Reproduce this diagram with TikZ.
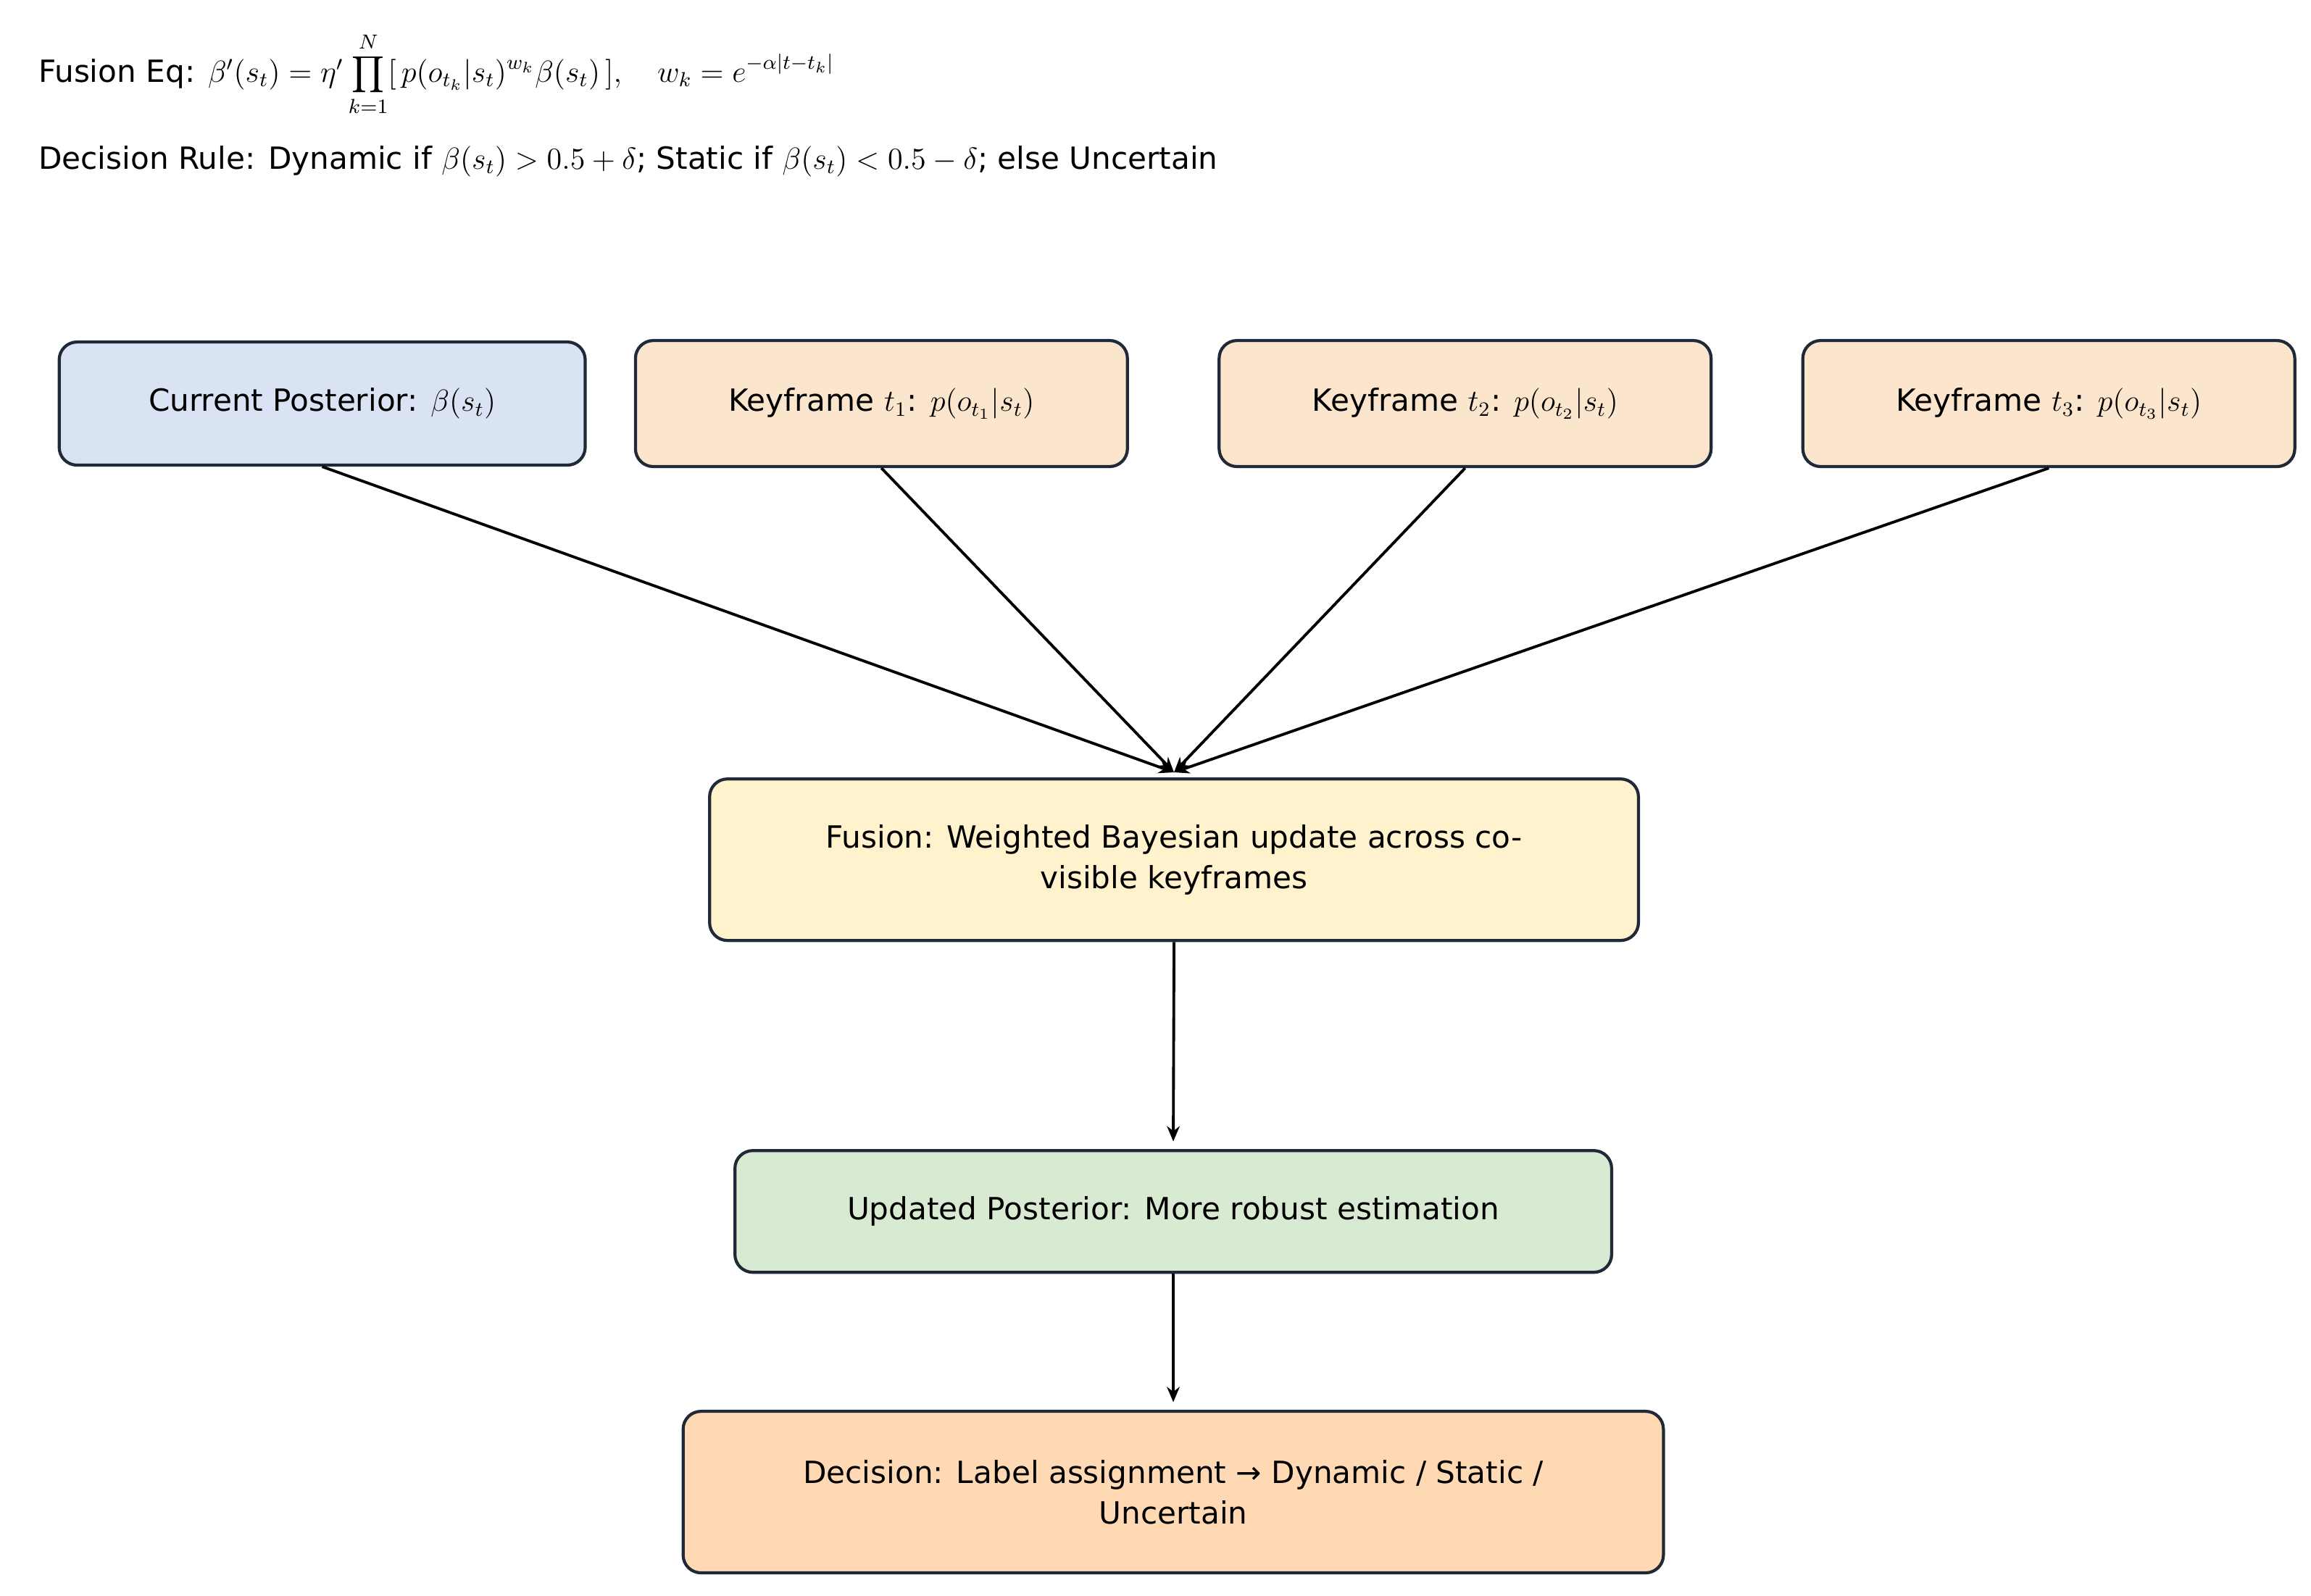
\documentclass[tikz,border=0pt]{standalone}
\usepackage{fontspec}
\setmainfont{DejaVu Sans}
\usetikzlibrary{arrows.meta}
\definecolor{cblue}{HTML}{DAE3F3}
\definecolor{corange}{HTML}{FCE5CD}
\definecolor{cyellow}{HTML}{FFF2CC}
\definecolor{cgreen}{HTML}{D9EAD3}
\definecolor{cpeach}{HTML}{FFD9B3}
\definecolor{cedge}{HTML}{1F2937}
\begin{document}
\begin{tikzpicture}[x=0.02044cm,y=-0.02044cm,
  box/.style={draw=cedge,line width=1.2pt,rounded corners=7pt,font=\fontsize{12}{16}\selectfont,align=center,inner sep=0pt},
  arr/.style={-{Stealth[length=6pt,width=5pt]},line width=1.1pt,black}]
\useasboundingbox (0,0) rectangle (1560,1077.3);
\node[anchor=west,font=\fontsize{12}{14}\selectfont] (eq) at (20,50) {Fusion Eq: $\beta'(s_t)=\eta'\displaystyle\prod_{k=1}^{N}[\,p(o_{t_k}|s_t)^{w_k}\beta(s_t)\,],\quad w_k=e^{-\alpha|t-t_k|}$};
\node[anchor=west,font=\fontsize{12}{14}\selectfont] (rule) at (20,109) {Decision Rule: Dynamic if $\beta(s_t)>0.5+\delta$; Static if $\beta(s_t)<0.5-\delta$; else Uncertain};
\node[box,fill=cblue,minimum width=7.26cm,minimum height=1.70cm] (cp) at (217.5,272.5) {Current Posterior: $\beta(s_t)$};
\node[box,fill=corange,minimum width=6.79cm,minimum height=1.74cm] (k1) at (595,272.5) {Keyframe $t_1$: $p(o_{t_1}|s_t)$};
\node[box,fill=corange,minimum width=6.79cm,minimum height=1.74cm] (k2) at (989,272.5) {Keyframe $t_2$: $p(o_{t_2}|s_t)$};
\node[box,fill=corange,minimum width=6.79cm,minimum height=1.74cm] (k3) at (1383,272.5) {Keyframe $t_3$: $p(o_{t_3}|s_t)$};
\node[box,fill=cyellow,minimum width=12.82cm,minimum height=2.23cm] (fu) at (792.5,580.5) {Fusion: Weighted Bayesian update across co-\\visible keyframes};
\node[box,fill=cgreen,minimum width=12.10cm,minimum height=1.68cm] (up) at (792,818) {Updated Posterior: More robust estimation};
\node[box,fill=cpeach,minimum width=13.53cm,minimum height=2.23cm] (de) at (792,1007.5) {Decision: Label assignment → Dynamic / Static /\\Uncertain};
\coordinate (fut) at ([yshift=2pt]fu.north);
\draw[arr] (cp.south) -- (fut);
\draw[arr] (k1.south) -- (fut);
\draw[arr] (k2.south) -- (fut);
\draw[arr] (k3.south) -- (fut);
\draw[arr] (fu.south) -- ([yshift=3pt]up.north);
\draw[arr] (up.south) -- ([yshift=3pt]de.north);
\end{tikzpicture}
\end{document}
